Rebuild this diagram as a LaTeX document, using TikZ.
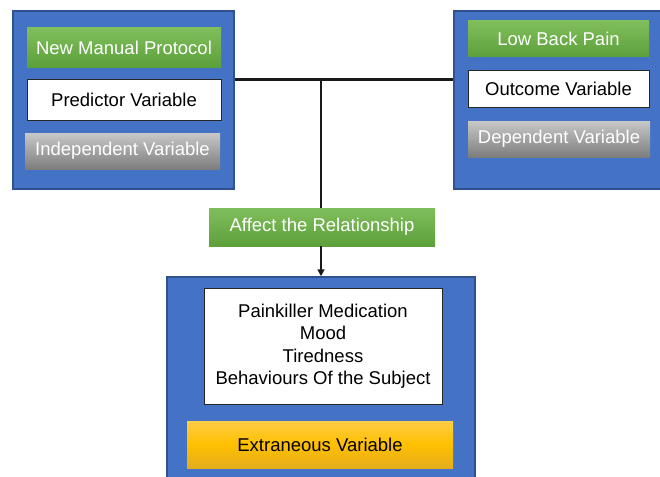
\documentclass[tikz,border=0pt]{standalone}
\usepackage{fontspec}
\setmainfont{Liberation Sans}
\usetikzlibrary{arrows.meta}
\definecolor{bluefill}{RGB}{68,114,196}
\definecolor{blueline}{RGB}{47,82,143}
\definecolor{gtop}{RGB}{128,190,92}
\definecolor{gbot}{RGB}{92,160,58}
\definecolor{graytop}{RGB}{200,200,200}
\definecolor{graybot}{RGB}{125,125,125}
\definecolor{ytop}{RGB}{255,205,70}
\definecolor{ymid}{RGB}{255,192,0}
\definecolor{ybot}{RGB}{228,172,30}
\begin{document}
\begin{tikzpicture}[x=1pt,y=-1pt,
  every node/.style={font=\fontsize{18.5}{22.5}\selectfont, inner sep=0pt, align=center},
  panel/.style={draw=blueline, line width=1.5pt, fill=bluefill},
  greenbox/.style={top color=gtop, bottom color=gbot, text=white},
  whitebox/.style={draw=black!85, line width=1pt, fill=white, text=black},
  graybox/.style={top color=graytop, bottom color=graybot, text=white},
  yellowbox/.style={top color=ytop, bottom color=ybot, middle color=ymid, text=black},
  wire/.style={line width=3pt, black!90},
  arrowline/.style={line width=1.6pt, black!90, -{Triangle[length=7pt,width=7pt]}},
  plainline/.style={line width=1.6pt, black!90}
]
\useasboundingbox (0,0) rectangle (660,476);
% panels
\node[panel, minimum width=221pt, minimum height=178pt] (left) at (123.5,100) {};
\node[panel, minimum width=212pt, minimum height=178pt] (right) at (560,100) {};
\node[panel, minimum width=308pt, minimum height=204pt] (bottom) at (321,379) {};
% left items
\node[greenbox, minimum width=194pt, minimum height=40pt] (nmp) at (124,47.5) {New Manual Protocol};
\node[whitebox, minimum width=194pt, minimum height=40pt] (pred) at (124,100) {Predictor Variable};
\node[graybox, minimum width=195pt, minimum height=36pt] (indep) at (122.5,151) {Independent Variable};
% right items
\node[greenbox, minimum width=181pt, minimum height=36pt] (lbp) at (558.5,39) {Low Back Pain};
\node[whitebox, minimum width=181pt, minimum height=36pt] (outc) at (558.5,89) {Outcome Variable};
\node[graybox, minimum width=182pt, minimum height=36pt] (dep) at (559,139) {Dependent Variable};
% bottom items
\node[whitebox, minimum width=238pt, minimum height=116pt] (list) at (323,346)
  {Painkiller Medication\\Mood\\Tiredness\\Behaviours Of the Subject};
\node[yellowbox, minimum width=266pt, minimum height=47pt] (extr) at (320,444.5) {Extraneous Variable};
% connectors
\coordinate (j) at (321,80);
\draw[wire] (j -| left.east) -- (j -| right.west);
\node[greenbox, minimum width=226pt, minimum height=38pt] (aff) at (322,227) {Affect the Relationship};
\draw[plainline] (j) -- (aff.north -| j);
\draw[arrowline] (aff.south -| j) -- (bottom.north -| j);
\end{tikzpicture}
\end{document}
